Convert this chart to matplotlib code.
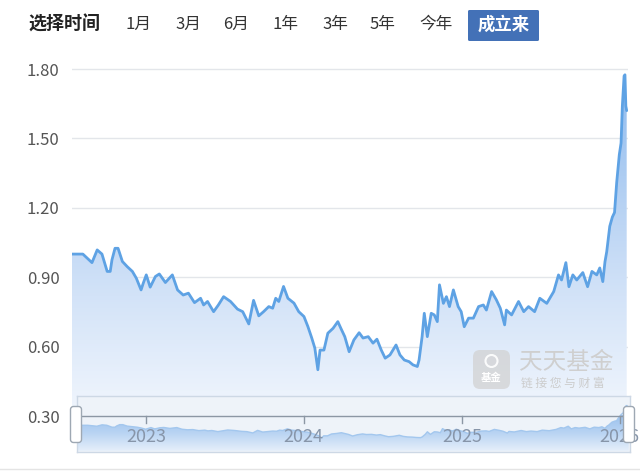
import numpy as np
import matplotlib
matplotlib.use('Agg')
import matplotlib.pyplot as plt
import matplotlib.dates as mdates
from matplotlib.patches import FancyBboxPatch, Circle
from matplotlib.colors import LinearSegmentedColormap
import pandas as pd

plt.rcParams['font.family'] = ['Noto Sans CJK SC', 'DejaVu Sans']

# ---------------- data ----------------
dates = [
    '2022-07-25', '2022-08-19', '2022-09-09', '2022-09-21', '2022-10-02', '2022-10-14',
    '2022-10-21', '2022-10-25', '2022-11-01', '2022-11-08', '2022-11-18', '2022-11-29',
    '2022-12-11', '2022-12-20', '2022-12-31', '2023-01-05', '2023-01-12', '2023-01-21',
    '2023-02-02', '2023-02-11', '2023-02-25', '2023-03-13', '2023-03-25', '2023-04-07',
    '2023-04-19', '2023-05-03', '2023-05-17', '2023-05-24', '2023-06-02', '2023-06-16',
    '2023-06-27', '2023-07-09', '2023-07-25', '2023-08-10', '2023-08-22', '2023-09-05',
    '2023-09-16', '2023-09-28', '2023-10-09', '2023-10-21', '2023-10-30', '2023-11-06',
    '2023-11-13', '2023-11-24', '2023-12-04', '2023-12-18', '2023-12-29', '2024-01-10',
    '2024-01-19', '2024-01-28', '2024-02-04', '2024-02-11', '2024-02-16', '2024-02-25',
    '2024-03-05', '2024-03-17', '2024-03-28', '2024-04-04', '2024-04-13', '2024-04-23',
    '2024-05-04', '2024-05-16', '2024-05-25', '2024-06-06', '2024-06-17', '2024-06-26',
    '2024-07-06', '2024-07-15', '2024-07-26', '2024-08-09', '2024-08-18', '2024-08-28',
    '2024-09-08', '2024-09-17', '2024-09-27', '2024-10-01', '2024-10-08', '2024-10-13',
    '2024-10-20', '2024-10-29', '2024-11-05', '2024-11-12', '2024-11-17', '2024-11-26',
    '2024-12-03', '2024-12-10', '2024-12-19', '2024-12-30', '2025-01-06', '2025-01-13',
    '2025-01-23', '2025-02-03', '2025-02-15', '2025-02-26', '2025-03-05', '2025-03-17',
    '2025-03-28', '2025-04-06', '2025-04-16', '2025-04-20', '2025-05-02', '2025-05-18',
    '2025-05-30', '2025-06-10', '2025-06-24', '2025-07-06', '2025-07-22', '2025-08-07',
    '2025-08-18', '2025-08-25', '2025-09-04', '2025-09-11', '2025-09-20', '2025-09-29',
    '2025-10-13', '2025-10-24', '2025-11-03', '2025-11-14', '2025-11-21', '2025-11-28',
    '2025-12-03', '2025-12-07', '2025-12-14', '2025-12-20', '2025-12-25', '2025-12-30',
    '2026-01-05', '2026-01-09', '2026-01-12', '2026-01-16', '2026-01-18', '2026-01-20',
    '2026-01-22',
]
nav_values = [
    1.000, 1.000, 0.963, 1.018, 1.000, 0.925,
    0.925, 0.975, 1.025, 1.025, 0.968, 0.946,
    0.925, 0.896, 0.845, 0.874, 0.910, 0.857,
    0.903, 0.914, 0.877, 0.910, 0.845, 0.823,
    0.831, 0.790, 0.809, 0.780, 0.795, 0.751,
    0.780, 0.816, 0.795, 0.762, 0.751, 0.698,
    0.800, 0.733, 0.751, 0.773, 0.766, 0.809,
    0.795, 0.860, 0.809, 0.788, 0.751, 0.730,
    0.687, 0.637, 0.594, 0.500, 0.585, 0.585,
    0.658, 0.679, 0.708, 0.679, 0.643, 0.578,
    0.629, 0.660, 0.637, 0.643, 0.615, 0.632,
    0.585, 0.550, 0.564, 0.607, 0.564, 0.542,
    0.535, 0.521, 0.514, 0.542, 0.643, 0.744,
    0.643, 0.744, 0.737, 0.708, 0.867, 0.787,
    0.816, 0.773, 0.845, 0.773, 0.751, 0.686,
    0.723, 0.723, 0.773, 0.780, 0.758, 0.838,
    0.802, 0.766, 0.694, 0.758, 0.737, 0.795,
    0.751, 0.773, 0.751, 0.809, 0.787, 0.838,
    0.910, 0.888, 0.963, 0.859, 0.910, 0.888,
    0.920, 0.859, 0.925, 0.910, 0.940, 0.881,
    0.967, 1.010, 1.120, 1.160, 1.180, 1.310,
    1.430, 1.480, 1.640, 1.770, 1.775, 1.640,
    1.620,
]
range_end = '2026-01-25'
y_ticks = [0.30, 0.60, 0.90, 1.20, 1.50, 1.80]
y_tick_labels = ['0.30', '0.60', '0.90', '1.20', '1.50', '1.80']
period_label = '选择时间'
period_buttons = ['1月', '3月', '6月', '1年', '3年', '5年', '今年']
active_button = '成立来'
year_ticks = ['2023-01-01', '2024-01-01', '2025-01-01', '2026-01-01']
year_labels = ['2023', '2024', '2025', '2026']

# ---------------- figure ----------------
W, H = 640, 473
fig = plt.figure(figsize=(W / 100, H / 100), dpi=100)
fig.patch.set_facecolor('white')

x = mdates.date2num(pd.to_datetime(dates))
x_end = mdates.date2num(pd.Timestamp(range_end))
xt = mdates.date2num(pd.to_datetime(year_ticks))
grad = np.linspace(0, 1, 256).reshape(-1, 1)

# main axes
ax = fig.add_axes([72 / W, 1 - 416 / H, 556 / W, (416 - 57) / H])
ax.set_facecolor('none')
for s in ax.spines.values():
    s.set_visible(False)
ylo, yhi = 0.30, 1.852
poly = ax.fill_between(x, nav_values, ylo, color='none', lw=0)
cmap = LinearSegmentedColormap.from_list('g', ['#f1f6fd', '#d3e3f8', '#aecdf2', '#8ab8ee'])
im = ax.imshow(grad, aspect='auto', cmap=cmap, origin='lower',
               extent=[x[0], x_end, ylo, yhi], zorder=1, interpolation='bilinear')
im.set_clip_path(poly.get_paths()[0], transform=ax.transData)
ax.plot(x, nav_values, color='#5ea2e4', lw=2.0, zorder=3,
        solid_joinstyle='round', solid_capstyle='round')
ax.set_xlim(x[0], x_end)
ax.set_ylim(ylo, yhi)
ax.set_xticks([])
ax.set_yticks(y_ticks)
ax.set_yticklabels(y_tick_labels, fontsize=12, color='#555555')
ax.tick_params(axis='y', length=0, pad=9)
ax.grid(axis='y', color='#e3e6ea', lw=1)
ax.set_axisbelow(True)

# navigator
nav = fig.add_axes([77 / W, 1 - 452 / H, 553 / W, 56 / H])
nav.set_facecolor('#eef3f9')
for s in nav.spines.values():
    s.set_color('#cdd8e5')
    s.set_linewidth(1)
npoly = nav.fill_between(x, nav_values, 0, color='none', lw=0)
ncmap = LinearSegmentedColormap.from_list('n', ['#e6effa', '#b9d4f3', '#9cc2ee'])
nim = nav.imshow(grad, aspect='auto', cmap=ncmap, origin='lower',
                 extent=[x[0], x_end, 0, 1.4], zorder=1, interpolation='bilinear')
nim.set_clip_path(npoly.get_paths()[0], transform=nav.transData)
nav.plot(x, nav_values, color='#a3c7ee', lw=1.0, zorder=2)
nav.set_xlim(x[0], x_end)
nav.set_ylim(-0.05, 2.15)
nav.set_xticks([])
nav.set_yticks([])
tr = nav.get_xaxis_transform()
nav.plot([0, 1], [0.643, 0.643], transform=nav.transAxes, color='#8c97a4', lw=1, zorder=3)
for xv, lab in zip(xt, year_labels):
    nav.plot([xv, xv], [0.643, 0.52], transform=tr, color='#8c97a4', lw=1, zorder=3)
    nav.text(xv, 0.26, lab, transform=tr, ha='center', va='center',
             fontsize=13, color='#8795a9', zorder=3, clip_on=False)

# overlay in pixel coordinates
ov = fig.add_axes([0, 0, 1, 1])
ov.set_xlim(0, W)
ov.set_ylim(H, 0)
ov.axis('off')
ov.set_facecolor('none')

# handles
for hx in (76, 629):
    ov.add_patch(FancyBboxPatch((hx - 5.5, 406.5), 11, 36,
                                boxstyle='round,pad=0,rounding_size=3',
                                fc='white', ec='#9ea8b3', lw=1, zorder=5))

# bottom separator
ov.plot([0, W], [469, 469], color='#e4e4e4', lw=1)

# top bar
ov.text(28, 24, period_label, fontsize=13, fontweight='bold', color='#222222',
        ha='left', va='center')
btn_centers = [138.5, 188, 236, 285, 335, 383, 436]
for cx, lab in zip(btn_centers, period_buttons):
    ov.text(cx, 24, lab, fontsize=12, color='#333333', ha='center', va='center')
ov.add_patch(FancyBboxPatch((468, 10), 71, 31, boxstyle='round,pad=0,rounding_size=1.5',
                            fc='#4371b7', ec='none', zorder=4))
ov.text(503.5, 25, active_button, fontsize=12.5, fontweight='bold', color='white',
        ha='center', va='center', zorder=5)

# watermark
ov.add_patch(FancyBboxPatch((473, 350), 37, 39, boxstyle='round,pad=0,rounding_size=7',
                            fc='#d2d2d2', ec='none', alpha=0.75, zorder=2))
ov.add_patch(Circle((491.5, 361), 6, fc='none', ec='white', lw=1.5, alpha=0.9, zorder=3))
ov.text(491.5, 378, '基金', fontsize=7.5, fontweight='bold', color='white',
        ha='center', va='center', zorder=3)
ov.text(519, 362, '天天基金', fontsize=17, color='#cfcfcf', ha='left', va='center', zorder=2)
ov.text(521, 383, '链 接 您 与 财 富', fontsize=8.5, color='#cccccc', ha='left',
        va='center', zorder=2)

fig.savefig('out.png', dpi=100, facecolor='white')
